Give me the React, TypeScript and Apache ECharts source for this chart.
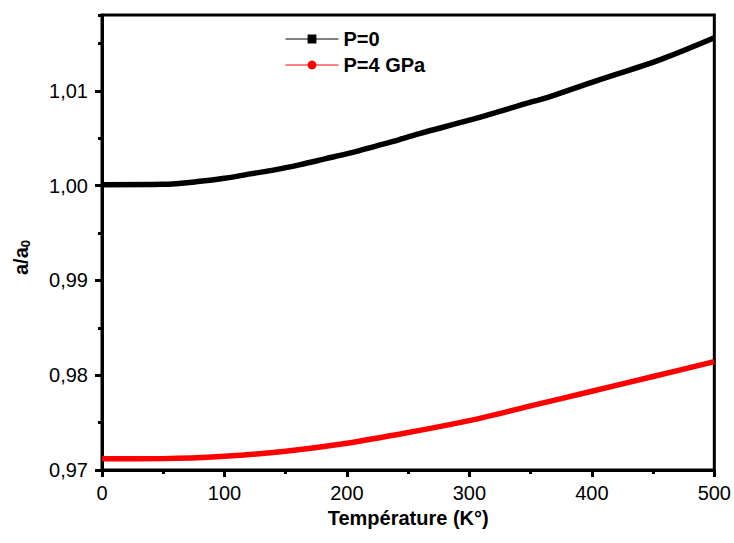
import React, { useEffect, useRef } from "react";
import * as echarts from "echarts";

const tempsP0 = [0, 50, 80, 100, 121, 141, 162, 182, 203, 223, 243, 260, 300, 350, 364, 400, 456, 500];
const ratioP0 = [1.0001, 1.00014, 1.00045, 1.00077, 1.00124, 1.00166, 1.00222, 1.00282, 1.00345, 1.00415, 1.00486, 1.00552, 1.0069, 1.0088, 1.0093, 1.0109, 1.0133, 1.0156];
const tempsP4 = [0, 50, 100, 150, 200, 250, 300, 350, 400, 450, 500];
const ratioP4 = [0.97118, 0.9712, 0.97145, 0.97198, 0.97282, 0.97395, 0.97521, 0.97676, 0.97831, 0.97986, 0.98144];
const seriesNames = ["P=0", "P=4 GPa"];

const FONT = "Arial, 'Liberation Sans', sans-serif";

export default function App() {
  const ref = useRef<HTMLDivElement>(null);
  useEffect(() => {
    if (!ref.current) return;
    const chart = echarts.init(ref.current, undefined, { renderer: "svg" });
    const toPairs = (ts: number[], vals: number[]) => ts.map((t, i) => [t, vals[i]]);
    chart.setOption({
      animation: false,
      backgroundColor: "#fff",
      grid: {
        left: 102,
        right: 19,
        top: 15,
        bottom: 73,
        show: true,
        borderWidth: 3,
        borderColor: "#000",
        backgroundColor: "transparent",
      },
      legend: {
        orient: "vertical",
        left: 280,
        top: 24,
        itemWidth: 53,
        itemHeight: 11,
        itemGap: 6,
        lineStyle: { width: 1 },
        textStyle: { fontFamily: FONT, fontWeight: "bold", fontSize: 20, color: "#000", lineHeight: 20 },
        data: seriesNames,
      },
      xAxis: {
        type: "value",
        min: 0,
        max: 500,
        interval: 100,
        name: "Température (K°)",
        nameLocation: "middle",
        nameGap: 37,
        nameTextStyle: { fontFamily: FONT, fontWeight: "bold", fontSize: 20, color: "#000" },
        axisLine: { show: true, lineStyle: { color: "#000", width: 3 } },
        axisTick: { show: true, length: 7, lineStyle: { color: "#000", width: 3 } },
        minorTick: { show: true, splitNumber: 2, length: 4, lineStyle: { color: "#000", width: 3 } },
        axisLabel: { fontFamily: FONT, fontSize: 20, color: "#000", margin: 13 },
        splitLine: { show: false },
      },
      yAxis: [
        {
          type: "value",
          min: 0.97,
          max: 1.018,
          interval: 0.01,
          name: "{a|a/a}{s|0}",
          nameLocation: "middle",
          nameRotate: 90,
          nameGap: 70,
          nameTextStyle: {
            padding: [0, 30, 0, 0],
            rich: {
              a: { fontFamily: FONT, fontWeight: "bold", fontSize: 20, color: "#000" },
              s: { fontFamily: FONT, fontWeight: "bold", fontSize: 13, color: "#000", verticalAlign: "bottom", padding: [9, 0, 0, 0] },
            },
          },
          axisLine: { show: true, lineStyle: { color: "#000", width: 3 } },
          axisTick: { show: true, length: 7, lineStyle: { color: "#000", width: 3 } },
          axisLabel: {
            fontFamily: FONT,
            fontSize: 20,
            color: "#000",
            margin: 14,
            showMaxLabel: false,
            formatter: (v: number) => v.toFixed(2).replace(".", ","),
          },
          splitLine: { show: false },
        },
        {
          type: "value",
          position: "left",
          min: 0.97,
          max: 1.018,
          interval: 0.005,
          axisLine: { show: false },
          axisTick: { show: true, length: 4, lineStyle: { color: "#000", width: 3 } },
          axisLabel: { show: false },
          splitLine: { show: false },
        },
      ],
      series: [
        {
          name: seriesNames[0],
          type: "line",
          data: toPairs(tempsP0, ratioP0),
          smooth: 0.3,
          symbol: "rect",
          showSymbol: false,
          color: "#000",
          lineStyle: { color: "#000", width: 5.5 },
          itemStyle: { color: "#000" },
        },
        {
          name: seriesNames[1],
          type: "line",
          data: toPairs(tempsP4, ratioP4),
          smooth: 0.3,
          symbol: "circle",
          showSymbol: false,
          color: "#ff0000",
          lineStyle: { color: "#ff0000", width: 5.5 },
          itemStyle: { color: "#ff0000" },
        },
      ],
    });
    return () => chart.dispose();
  }, []);
  return (
    <div
      ref={ref}
      style={{ position: "absolute", left: 0, top: 0, width: 734, height: 543 }}
    />
  );
}
